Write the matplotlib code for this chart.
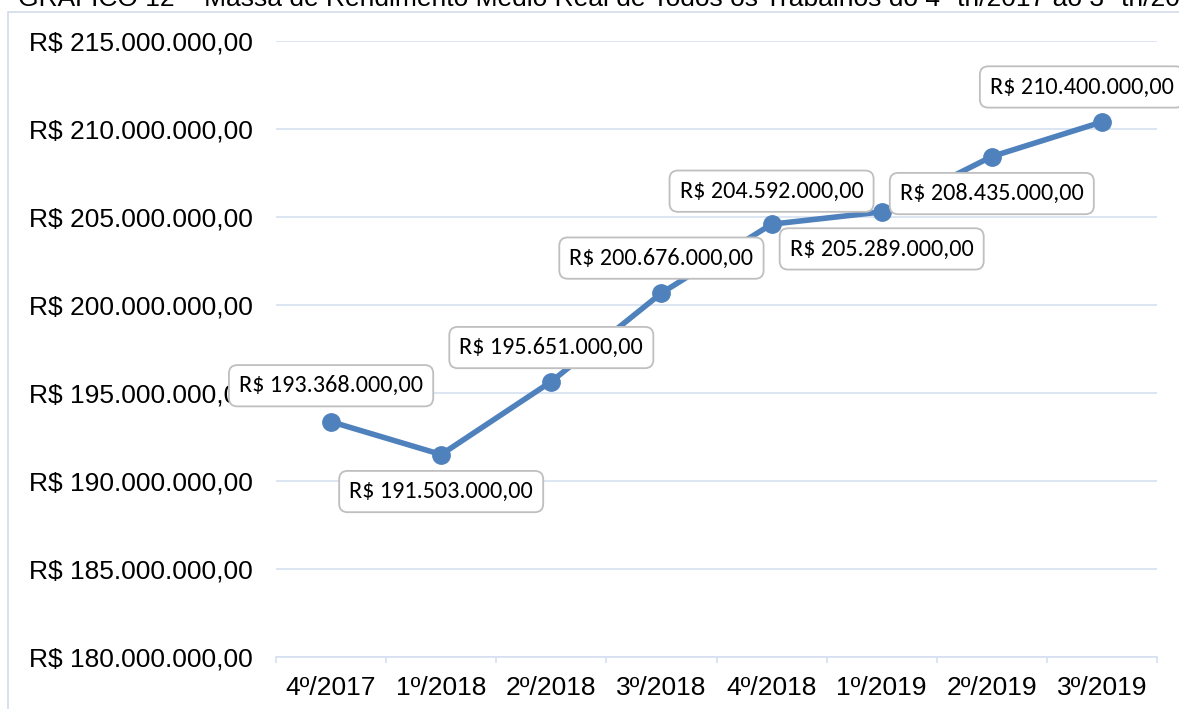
import matplotlib
matplotlib.use("Agg")
import matplotlib.pyplot as plt
from matplotlib.patches import Rectangle
from matplotlib.ticker import FixedLocator, FuncFormatter

quarters = ["4º/2017", "1º/2018", "2º/2018", "3º/2018", "4º/2018", "1º/2019", "2º/2019", "3º/2019"]
massa = [193368000, 191503000, 195651000, 200676000, 204592000, 205289000, 208435000, 210400000]
# label placement: offset in pixels (dx, dy) from each point
label_offsets = [(0, 36), (0, -37), (0, 34), (0, 35), (0, 33), (0, -37), (0, -37), (-20, 35)]
title = "GRÁFICO 12 – Massa de Rendimento Médio Real de Todos os Trabalhos do 4º tri/2017 ao 3º tri/2019"


def brl(v):
    s = f"{v:,.2f}"
    s = s.replace(",", "X").replace(".", ",").replace("X", ".")
    return "R$ " + s


W, H = 1179, 709
fig = plt.figure(figsize=(W / 100, H / 100), dpi=100)

# outer chart border
fig.patches.append(Rectangle((8 / W, -0.05), 1.1, 1 - 12 / H + 0.05, transform=fig.transFigure,
                             fill=False, edgecolor="#D3DCEA", linewidth=1.2))
fig.text(18 / W, 1 - 6 / H, title, fontsize=19, family=["Liberation Sans", "DejaVu Sans"],
         va="baseline", ha="left", color="#000000")

ax = fig.add_axes([276 / W, 52 / H, (1157 - 276) / W, (657 - 41) / H])
x = list(range(len(quarters)))
ax.plot(x, massa, color="#4F81BD", linewidth=4, marker="o", markersize=12.5,
        solid_capstyle="round", zorder=3, clip_on=False)

ax.set_xlim(-0.5, len(quarters) - 0.5)
ax.set_ylim(180e6, 215e6)
ax.yaxis.set_major_locator(FixedLocator([180e6 + 5e6 * i for i in range(8)]))
ax.yaxis.set_major_formatter(FuncFormatter(lambda v, p: brl(v)))
ax.grid(axis="y", color="#D6E0F0", linewidth=1.2)
ax.set_axisbelow(True)

ax.set_xticks(x)
ax.set_xticklabels(quarters)
ax.set_xticks([i - 0.5 for i in range(len(quarters) + 1)], minor=True)
ax.tick_params(axis="x", which="major", length=0, pad=14)
ax.tick_params(axis="x", which="minor", length=4.5, color="#D6E0F0", width=1.2)
ax.tick_params(axis="y", length=0, pad=17)
for lab in ax.get_xticklabels() + ax.get_yticklabels():
    lab.set_fontsize(19)
    lab.set_family(["Liberation Sans", "DejaVu Sans"])

for s in ["left", "right", "top"]:
    ax.spines[s].set_visible(False)
ax.spines["bottom"].set_color("#D6E0F0")
ax.spines["bottom"].set_linewidth(1.2)

for xi, v, (dx, dy) in zip(x, massa, label_offsets):
    ax.annotate(brl(v), (xi, v), xytext=(dx, dy), textcoords="offset pixels",
                ha="center", va="center", fontsize=17.4, family=["Carlito", "Lato", "DejaVu Sans"],
                annotation_clip=False, zorder=5,
                bbox=dict(boxstyle="round,pad=0.42,rounding_size=0.35", fc="white", ec="#BFBFBF", lw=1.3))

fig.savefig("out.png", dpi=100)
